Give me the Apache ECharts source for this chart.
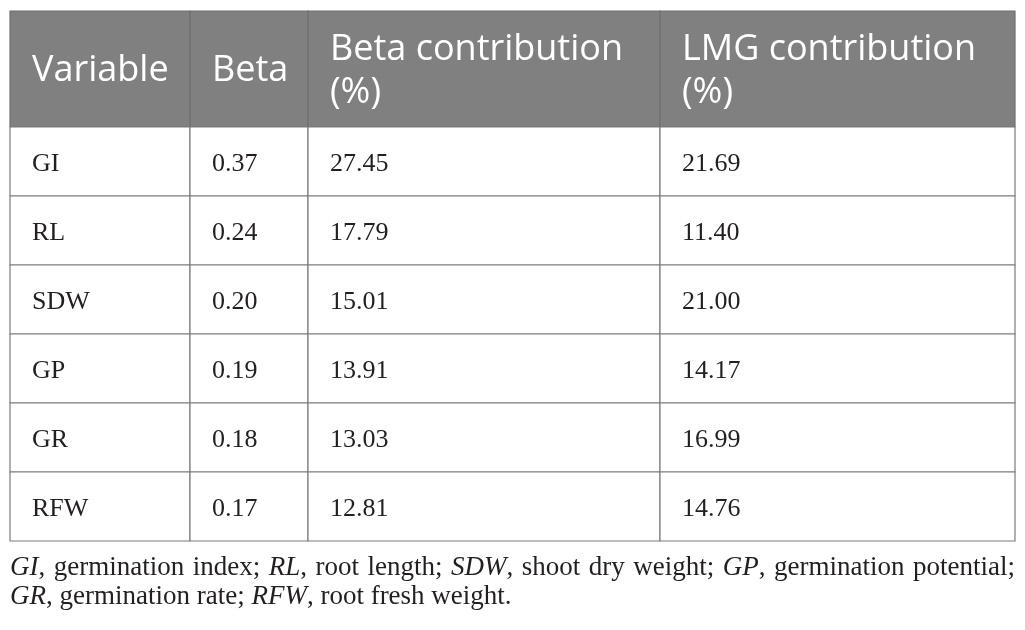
<!DOCTYPE html>
<html>
<head>
<meta charset="utf-8">
<script src="https://cdn.jsdelivr.net/npm/echarts@6/dist/echarts.min.js"></script>
<style>
  html, body { margin: 0; padding: 0; background: #fff; }
  #main { width: 1025px; height: 630px; }
</style>
</head>
<body>
<div id="main"></div>
<script>
// table content
const headers = ['Variable', 'Beta', 'Beta contribution\n(%)', 'LMG contribution\n(%)'];
const variables = ['GI', 'RL', 'SDW', 'GP', 'GR', 'RFW'];
const beta = [0.37, 0.24, 0.20, 0.19, 0.18, 0.17];
const betaContribution = [27.45, 17.79, 15.01, 13.91, 13.03, 12.81];
const lmgContribution = [21.69, 11.40, 21.00, 14.17, 16.99, 14.76];

// footnote: abbreviation + meaning
const abbreviations = ['GI', 'RL', 'SDW', 'GP', 'GR', 'RFW'];
const meanings = ['germination index', 'root length', 'shoot dry weight',
  'germination potential', 'germination rate', 'root fresh weight'];

// layout (px)
const colWidths = [180, 118, 352, 355];
const headerHeight = 116;
const rowHeight = 69;
const tableLeft = 10, tableTop = 11;
const cellPad = 22;

const colEdges = [0];
colWidths.forEach(w => colEdges.push(colEdges[colEdges.length - 1] + w));
const rowEdges = [0, headerHeight];
variables.forEach(() => rowEdges.push(rowEdges[rowEdges.length - 1] + rowHeight));
const tableWidth = colEdges[colEdges.length - 1];
const tableHeight = rowEdges[rowEdges.length - 1];

// cells: [col, row] and their text
const cells = [];
const cellTexts = [];
headers.forEach((h, c) => { cells.push([c, 0]); cellTexts.push(h); });
variables.forEach((v, i) => {
  const row = [v, beta[i].toFixed(2), betaContribution[i].toFixed(2), lmgContribution[i].toFixed(2)];
  row.forEach((t, c) => { cells.push([c, i + 1]); cellTexts.push(t); });
});

const headerFont = '36px "Open Sans"';
const bodyFont = '26px "Liberation Serif"';

function renderCell(params, api) {
  const col = api.value(0), row = api.value(1);
  const p0 = api.coord([colEdges[col], rowEdges[row]]);
  const p1 = api.coord([colEdges[col + 1], rowEdges[row + 1]]);
  const isHeader = row === 0;
  return {
    type: 'group',
    children: [{
      type: 'rect',
      shape: { x: p0[0], y: p0[1], width: p1[0] - p0[0], height: p1[1] - p0[1] },
      style: { fill: isHeader ? '#808080' : '#fff', stroke: isHeader ? '#6f6f6f' : '#7d7d7d', lineWidth: 1.2 }
    }, {
      type: 'text',
      style: {
        text: cellTexts[params.dataIndex],
        x: p0[0] + cellPad,
        y: (p0[1] + p1[1]) / 2 + (isHeader ? 2 : 3),
        align: 'left',
        verticalAlign: 'middle',
        font: isHeader ? headerFont : bodyFont,
        lineHeight: 43,
        fill: isHeader ? '#fff' : '#231f20'
      }
    }]
  };
}

// footnote, justified like the source
const noteSize = 27;
const noteFamily = '"Liberation Serif"';
const ctx = document.createElement('canvas').getContext('2d');
function measure(text, italic) {
  ctx.font = (italic ? 'italic ' : '') + noteSize + 'px ' + noteFamily;
  return ctx.measureText(text).width;
}
function wordsFor(from, to) {
  const words = [];
  for (let i = from; i < to; i++) {
    const end = i === abbreviations.length - 1 ? '.' : ';';
    words.push([[abbreviations[i], true], [',', false]]);
    const parts = meanings[i].split(' ');
    parts.forEach((p, k) => words.push([[k === parts.length - 1 ? p + end : p, false]]));
  }
  return words;
}
const noteLines = [
  { words: wordsFor(0, 4), y: 569, justify: true },
  { words: wordsFor(4, 6), y: 598, justify: false }
];
const noteGraphics = [];
noteLines.forEach(line => {
  const widths = line.words.map(w => w.reduce((s, seg) => s + measure(seg[0], seg[1]), 0));
  const total = widths.reduce((a, b) => a + b, 0);
  const gap = line.justify ? (tableWidth - total) / (line.words.length - 1) : measure(' ', false);
  let x = tableLeft;
  line.words.forEach((w, k) => {
    let sx = x;
    w.forEach(seg => {
      noteGraphics.push({
        type: 'text',
        left: sx, top: line.y - noteSize / 2 - 1,
        style: {
          text: seg[0],
          font: (seg[1] ? 'italic ' : '') + noteSize + 'px ' + noteFamily,
          fill: '#231f20'
        }
      });
      sx += measure(seg[0], seg[1]);
    });
    x += widths[k] + gap;
  });
});

const chart = echarts.init(document.getElementById('main'));
chart.setOption({
  animation: false,
  grid: { left: tableLeft, top: tableTop, width: tableWidth, height: tableHeight },
  xAxis: { type: 'value', min: 0, max: tableWidth, show: false },
  yAxis: { type: 'value', min: 0, max: tableHeight, inverse: true, show: false },
  series: [{
    type: 'custom',
    renderItem: renderCell,
    data: cells,
    silent: true
  }],
  graphic: noteGraphics
});
</script>
</body>
</html>
